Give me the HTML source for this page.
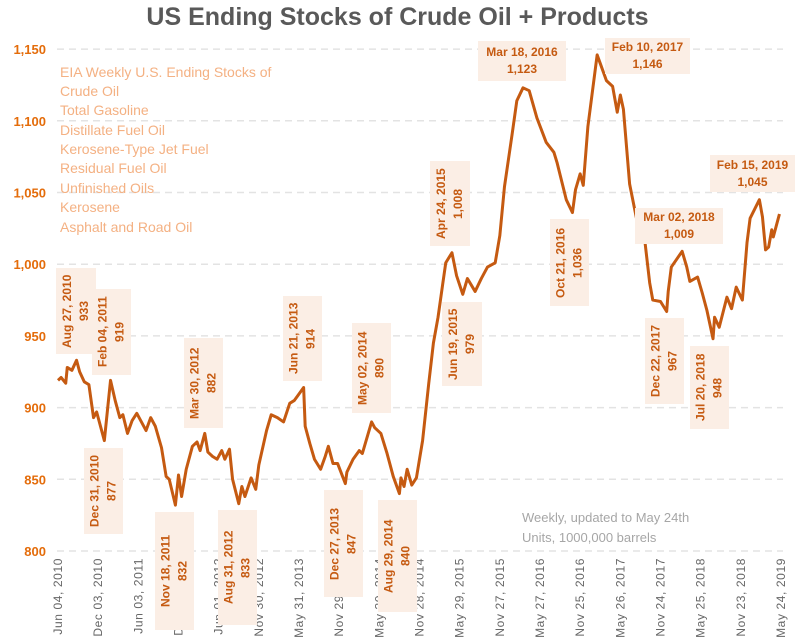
<!DOCTYPE html>
<html><head><meta charset="utf-8">
<style>
body{margin:0;background:#fff;}
#wrap{position:relative;width:795px;height:644px;overflow:hidden;background:#fff;font-family:"Liberation Sans",sans-serif;}
.title{position:absolute;left:0;width:795px;top:3px;text-align:center;font-size:25px;font-weight:bold;color:#595959;}
.leg{position:absolute;left:60px;font-size:14px;color:#f4b183;}
.note{position:absolute;left:522px;font-size:13px;color:#a6a6a6;}
.ann{position:absolute;background:#fbeee5;color:#c55a11;font-weight:bold;font-size:12px;text-align:center;line-height:17px;box-sizing:border-box;}
.rot{writing-mode:vertical-rl;transform:rotate(180deg);display:flex;align-items:center;justify-content:center;}
.hor{display:flex;flex-direction:column;justify-content:center;}
</style></head><body>
<div id="wrap">
<div class="title">US Ending Stocks of Crude Oil + Products</div>
<svg id="svg" width="795" height="644" style="position:absolute;left:0;top:0"></svg>
<div class="leg" style="top:64px">EIA Weekly U.S. Ending Stocks of</div>
<div class="leg" style="top:83px">Crude Oil</div>
<div class="leg" style="top:102px">Total Gasoline</div>
<div class="leg" style="top:122px">Distillate Fuel Oil</div>
<div class="leg" style="top:141px">Kerosene-Type Jet Fuel</div>
<div class="leg" style="top:160px">Residual Fuel Oil</div>
<div class="leg" style="top:180px">Unfinished Oils</div>
<div class="leg" style="top:199px">Kerosene</div>
<div class="leg" style="top:219px">Asphalt and Road Oil</div>
<div class="note" style="top:510px">Weekly, updated to May 24th</div>
<div class="note" style="top:530px">Units, 1000,000 barrels</div>

<div class="ann rot" style="left:56px;top:268px;width:40px;height:86px">Aug 27, 2010<br>933</div>
<div class="ann rot" style="left:92px;top:289px;width:39px;height:86px">Feb 04, 2011<br>919</div>
<div class="ann rot" style="left:84px;top:448px;width:39px;height:86px">Dec 31, 2010<br>877</div>
<div class="ann rot" style="left:155px;top:512px;width:39px;height:118px">Nov 18, 2011<br>832</div>
<div class="ann rot" style="left:184px;top:338px;width:39px;height:90px">Mar 30, 2012<br>882</div>
<div class="ann rot" style="left:218px;top:510px;width:39px;height:115px">Aug 31, 2012<br>833</div>
<div class="ann rot" style="left:283px;top:296px;width:39px;height:85px">Jun 21, 2013<br>914</div>
<div class="ann rot" style="left:324px;top:490px;width:39px;height:107px">Dec 27, 2013<br>847</div>
<div class="ann rot" style="left:352px;top:323px;width:39px;height:90px">May 02, 2014<br>890</div>
<div class="ann rot" style="left:378px;top:500px;width:39px;height:112px">Aug 29, 2014<br>840</div>
<div class="ann rot" style="left:430px;top:161px;width:40px;height:85px">Apr 24, 2015<br>1,008</div>
<div class="ann rot" style="left:442px;top:302px;width:40px;height:84px">Jun 19, 2015<br>979</div>
<div class="ann hor" style="left:478px;top:41px;width:88px;height:40px">Mar 18, 2016<br>1,123</div>
<div class="ann rot" style="left:550px;top:219px;width:39px;height:87px">Oct 21, 2016<br>1,036</div>
<div class="ann hor" style="left:605px;top:38px;width:85px;height:36px">Feb 10, 2017<br>1,146</div>
<div class="ann hor" style="left:635px;top:208px;width:88px;height:36px">Mar 02, 2018<br>1,009</div>
<div class="ann rot" style="left:645px;top:318px;width:39px;height:86px">Dec 22, 2017<br>967</div>
<div class="ann rot" style="left:690px;top:346px;width:39px;height:83px">Jul 20, 2018<br>948</div>
<div class="ann hor" style="left:710px;top:155px;width:85px;height:37px">Feb 15, 2019<br>1,045</div>
</div>
<script>
const weeks=[0,2,5,6,9,12,14,17,20,23,25,30,34,37,40,42,45,48,51,54,57,60,63,67,70,72,76,78,80,83,87,90,92,95,97,100,103,106,108,111,113,117,119,121,125,128,130,135,138,142,146,150,153,155,159,160,163,166,170,173,175,178,181,186,187,191,195,197,203,205,209,213,217,221,222,224,226,229,232,236,240,243,246,249,251,255,258,262,265,270,274,278,283,286,289,294,297,301,305,310,316,321,323,326,329,333,335,338,340,343,349,351,355,359,362,364,366,370,375,380,383,385,390,394,395,397,404,407,409,414,417,420,424,425,428,433,436,439,443,446,448,454,456,458,460,462,463,467];
const values=[919,921,917,928,926,933,925,918,916,893,897,877,919,905,893,895,882,891,896,890,884,893,887,872,852,850,832,853,838,857,873,876,870,882,869,866,864,870,864,871,850,833,845,838,851,843,860,884,895,893,890,903,905,908,914,887,875,864,857,866,873,861,861,847,855,864,870,868,890,886,882,868,852,840,851,845,857,846,851,877,917,945,963,986,1001,1008,992,979,990,981,990,998,1001,1020,1054,1091,1114,1123,1121,1102,1085,1078,1071,1058,1045,1036,1052,1063,1055,1096,1146,1140,1128,1124,1106,1118,1108,1056,1029,1015,987,975,974,967,981,998,1009,998,988,991,980,968,948,963,956,977,969,984,975,1015,1032,1045,1033,1010,1012,1024,1019,1035];
const yTicks=[800,850,900,950,1000,1050,1100,1150];
const xTickWeeks=[0,26,52,78,104,130,156,182,208,234,260,286,312,338,364,390,416,442,468];
const xTickLabels=["Jun 04, 2010","Dec 03, 2010","Jun 03, 2011","Dec 02, 2011","Jun 01, 2012","Nov 30, 2012","May 31, 2013","Nov 29, 2013","May 30, 2014","Nov 28, 2014","May 29, 2015","Nov 27, 2015","May 27, 2016","Nov 25, 2016","May 26, 2017","Nov 24, 2017","May 25, 2018","Nov 23, 2018","May 24, 2019"];
const X=w=>58+w*(723/468);
const Y=v=>551-(v-800)*(71.7/50);
const svg=document.getElementById('svg');
const NS='http://www.w3.org/2000/svg';
function mk(t,a){const e=document.createElementNS(NS,t);for(const k in a)e.setAttribute(k,a[k]);svg.appendChild(e);return e;}
yTicks.forEach(v=>{
  const g=mk('line',{x1:57,x2:783,y1:Y(v),y2:Y(v),stroke:'#e3e3e3','stroke-width':1.5,'stroke-dasharray':'7,5'});
  
  
  const t=mk('text',{x:46,y:Y(v)+5,'text-anchor':'end','font-size':13,'font-weight':'bold',fill:'#e46c0a','font-family':'Liberation Sans, sans-serif'});
  t.textContent=v.toLocaleString('en-US');
  
  
});
xTickWeeks.forEach((w,i)=>{
  const x=X(w)+4,y=558;
  const t=mk('text',{x:x,y:y,'text-anchor':'end','font-size':12,'letter-spacing':0.6,fill:'#666','font-family':'Liberation Sans, sans-serif',transform:`rotate(-90 ${x} ${y})`});
  t.textContent=xTickLabels[i];
  
  
});
const p=mk('polyline',{points:weeks.map((w,i)=>X(w)+','+Y(values[i])).join(' '),fill:'none',stroke:'#c55a11','stroke-width':3,'stroke-linejoin':'round'});


</script>
</body></html>
